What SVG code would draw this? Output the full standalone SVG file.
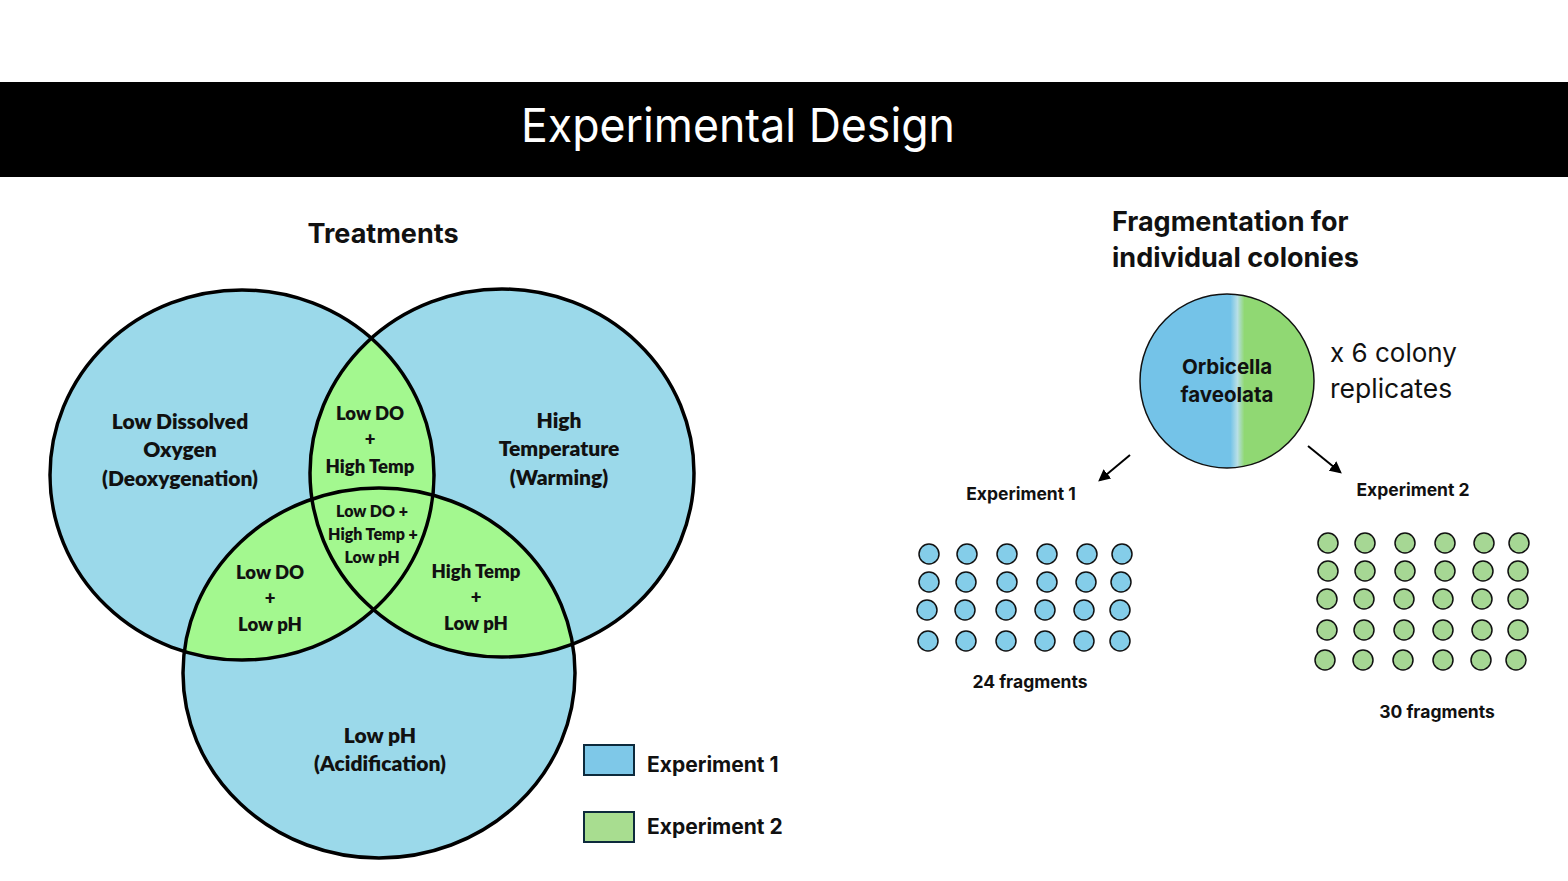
<svg xmlns="http://www.w3.org/2000/svg" width="1568" height="881" viewBox="0 0 1568 881">
<style>
.vt{font-family:Lato,"Open Sans","Liberation Sans",sans-serif;font-weight:800;fill:#111;text-anchor:middle}
.rt{font-family:Inter,"Liberation Sans",sans-serif;font-weight:bold;fill:#111}
.venn{stroke:#000;stroke-width:3.5;fill:none}
.fb{fill:#84cde9;stroke:#111;stroke-width:1.5}
.fg{fill:#a6d794;stroke:#111;stroke-width:1.5}
.arrow{stroke:#000;stroke-width:2;fill:none}
</style>
<defs>
<ellipse id="cA" cx="242" cy="475" rx="192" ry="185"/>
<ellipse id="cB" cx="502" cy="473" rx="192" ry="184"/>
<ellipse id="cC" cx="379" cy="673" rx="196" ry="185"/>
<clipPath id="clipA"><use href="#cA"/></clipPath>
<clipPath id="clipB"><use href="#cB"/></clipPath>
<linearGradient id="colony" x1="0" y1="0" x2="1" y2="0">
<stop offset="0" stop-color="#74c3e8"/>
<stop offset="0.52" stop-color="#74c3e8"/>
<stop offset="0.56" stop-color="#b8dfe6"/>
<stop offset="0.6" stop-color="#90d873"/>
<stop offset="1" stop-color="#90d873"/>
</linearGradient>
<marker id="ah" viewBox="0 0 10 10" refX="8" refY="5" markerWidth="6" markerHeight="6" orient="auto" markerUnits="strokeWidth">
<path d="M0,0 L10,5 L0,10 z" fill="#000"/>
</marker>
</defs>
<rect width="1568" height="881" fill="#fff"/>
<g id="header">
<rect x="0" y="82" width="1568" height="95" fill="#000"/>
<text x="738" y="142" font-family="Inter,'Open Sans',sans-serif" font-size="47" fill="#fff" text-anchor="middle" textLength="434" lengthAdjust="spacingAndGlyphs">Experimental Design</text>
</g>
<g id="treatments-title">
<text x="383" y="243" font-family="Inter,'Liberation Sans',sans-serif" font-weight="bold" font-size="27" fill="#111" text-anchor="middle">Treatments</text>
</g>
<g id="venn">
<use href="#cA" fill="#9bd9ea"/>
<use href="#cB" fill="#9bd9ea"/>
<use href="#cC" fill="#9bd9ea"/>
<use href="#cB" fill="#a3f88f" clip-path="url(#clipA)"/>
<use href="#cC" fill="#a3f88f" clip-path="url(#clipA)"/>
<use href="#cC" fill="#a3f88f" clip-path="url(#clipB)"/>
<use href="#cA" class="venn"/>
<use href="#cB" class="venn"/>
<use href="#cC" class="venn"/>
</g>
<g id="node-lowdo">
<text class="vt" font-size="21" x="180" y="429">Low Dissolved</text>
<text class="vt" font-size="21" x="180" y="457">Oxygen</text>
<text class="vt" font-size="21" x="180" y="486">(Deoxygenation)</text>
</g>
<g id="node-hightemp">
<text class="vt" font-size="21" x="559" y="428">High</text>
<text class="vt" font-size="21" x="559" y="456">Temperature</text>
<text class="vt" font-size="21" x="559" y="485">(Warming)</text>
</g>
<g id="node-lowph">
<text class="vt" font-size="21" x="380" y="743">Low pH</text>
<text class="vt" font-size="21" x="380" y="771">(Acidification)</text>
</g>
<g id="node-do-temp">
<text class="vt" font-size="18.5" x="370" y="420">Low DO</text>
<text class="vt" font-size="18.5" x="370" y="446">+</text>
<text class="vt" font-size="18.5" x="370" y="473">High Temp</text>
</g>
<g id="node-all">
<text class="vt" font-size="16" x="372" y="517">Low DO +</text>
<text class="vt" font-size="16" x="373" y="540">High Temp +</text>
<text class="vt" font-size="16" x="372" y="563">Low pH</text>
</g>
<g id="node-do-ph">
<text class="vt" font-size="18.5" x="270" y="579">Low DO</text>
<text class="vt" font-size="18.5" x="270" y="605">+</text>
<text class="vt" font-size="18.5" x="270" y="631">Low pH</text>
</g>
<g id="node-temp-ph">
<text class="vt" font-size="18.5" x="476" y="578">High Temp</text>
<text class="vt" font-size="18.5" x="476" y="604">+</text>
<text class="vt" font-size="18.5" x="476" y="630">Low pH</text>
</g>
<g id="legend">
<rect x="584" y="745" width="50" height="30" fill="#7ec8e8" stroke="#0d2a3c" stroke-width="2"/>
<text class="rt" font-size="21" x="647" y="772">Experiment 1</text>
<rect x="584" y="812" width="50" height="30" fill="#a8dd90" stroke="#0d2a3c" stroke-width="2"/>
<text class="rt" font-size="21" x="647" y="834">Experiment 2</text>
</g>
<g id="fragmentation-title">
<text class="rt" font-size="27" x="1112" y="231">Fragmentation for</text>
<text class="rt" font-size="27" x="1112" y="267">individual colonies</text>
</g>
<g id="colony">
<circle cx="1227" cy="381" r="87" fill="url(#colony)" stroke="#111" stroke-width="1.5"/>
<text class="rt" font-size="20.5" x="1227" y="374" text-anchor="middle">Orbicella</text>
<text class="rt" font-size="20.5" x="1227" y="402" text-anchor="middle">faveolata</text>
</g>
<g id="replicates">
<text x="1330" y="362" font-family="Inter,'Liberation Sans',sans-serif" font-size="26" fill="#111">x 6 colony</text>
<text x="1330" y="398" font-family="Inter,'Liberation Sans',sans-serif" font-size="26.5" fill="#111">replicates</text>
</g>
<g id="connectors">
<line class="arrow" x1="1130" y1="455" x2="1100" y2="480" marker-end="url(#ah)"/>
<line class="arrow" x1="1308" y1="446" x2="1340" y2="472" marker-end="url(#ah)"/>
</g>
<g id="experiment1">
<text class="rt" font-size="17.5" x="1021" y="500" text-anchor="middle">Experiment 1</text>
<circle class="fb" cx="929" cy="554" r="10"/><circle class="fb" cx="967" cy="554" r="10"/><circle class="fb" cx="1007" cy="554" r="10"/><circle class="fb" cx="1047" cy="554" r="10"/><circle class="fb" cx="1087" cy="554" r="10"/><circle class="fb" cx="1122" cy="554" r="10"/>
<circle class="fb" cx="929" cy="582" r="10"/><circle class="fb" cx="966" cy="582" r="10"/><circle class="fb" cx="1007" cy="582" r="10"/><circle class="fb" cx="1047" cy="582" r="10"/><circle class="fb" cx="1086" cy="582" r="10"/><circle class="fb" cx="1121" cy="582" r="10"/>
<circle class="fb" cx="927" cy="610" r="10"/><circle class="fb" cx="965" cy="610" r="10"/><circle class="fb" cx="1006" cy="610" r="10"/><circle class="fb" cx="1045" cy="610" r="10"/><circle class="fb" cx="1084" cy="610" r="10"/><circle class="fb" cx="1120" cy="610" r="10"/>
<circle class="fb" cx="928" cy="641" r="10"/><circle class="fb" cx="966" cy="641" r="10"/><circle class="fb" cx="1006" cy="641" r="10"/><circle class="fb" cx="1045" cy="641" r="10"/><circle class="fb" cx="1084" cy="641" r="10"/><circle class="fb" cx="1120" cy="641" r="10"/>
<text class="rt" font-size="17.5" x="1030" y="688" text-anchor="middle">24 fragments</text>
</g>
<g id="experiment2">
<text class="rt" font-size="17.5" x="1413" y="496" text-anchor="middle">Experiment 2</text>
<circle class="fg" cx="1328" cy="543" r="10"/><circle class="fg" cx="1365" cy="543" r="10"/><circle class="fg" cx="1405" cy="543" r="10"/><circle class="fg" cx="1445" cy="543" r="10"/><circle class="fg" cx="1484" cy="543" r="10"/><circle class="fg" cx="1519" cy="543" r="10"/>
<circle class="fg" cx="1328" cy="571" r="10"/><circle class="fg" cx="1365" cy="571" r="10"/><circle class="fg" cx="1405" cy="571" r="10"/><circle class="fg" cx="1445" cy="571" r="10"/><circle class="fg" cx="1483" cy="571" r="10"/><circle class="fg" cx="1518" cy="571" r="10"/>
<circle class="fg" cx="1327" cy="599" r="10"/><circle class="fg" cx="1364" cy="599" r="10"/><circle class="fg" cx="1404" cy="599" r="10"/><circle class="fg" cx="1443" cy="599" r="10"/><circle class="fg" cx="1482" cy="599" r="10"/><circle class="fg" cx="1518" cy="599" r="10"/>
<circle class="fg" cx="1327" cy="630" r="10"/><circle class="fg" cx="1364" cy="630" r="10"/><circle class="fg" cx="1404" cy="630" r="10"/><circle class="fg" cx="1443" cy="630" r="10"/><circle class="fg" cx="1482" cy="630" r="10"/><circle class="fg" cx="1518" cy="630" r="10"/>
<circle class="fg" cx="1325" cy="660" r="10"/><circle class="fg" cx="1363" cy="660" r="10"/><circle class="fg" cx="1403" cy="660" r="10"/><circle class="fg" cx="1443" cy="660" r="10"/><circle class="fg" cx="1481" cy="660" r="10"/><circle class="fg" cx="1516" cy="660" r="10"/>
<text class="rt" font-size="17.5" x="1437" y="718" text-anchor="middle">30 fragments</text>
</g>
</svg>
